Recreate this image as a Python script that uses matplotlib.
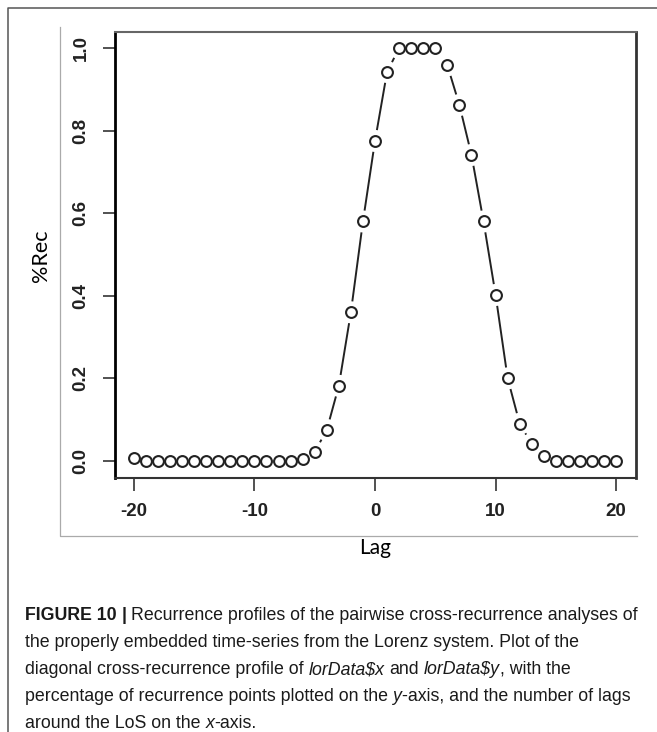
import numpy as np
import matplotlib.pyplot as plt
from matplotlib.lines import Line2D

# %Rec by lag
lags = np.arange(-20, 21)
rec = [0.007, 0, 0, 0, 0, 0, 0, 0, 0, 0, 0, 0, 0, 0,
       0.004, 0.022, 0.075, 0.182, 0.36, 0.58, 0.775, 0.942,
       1.0, 1.0, 1.0, 1.0, 0.958, 0.862, 0.741, 0.58, 0.402,
       0.20, 0.09, 0.041, 0.012, 0, 0, 0, 0, 0, 0]
xticks = [-20, -10, 0, 10, 20]
yticks = [0.0, 0.2, 0.4, 0.6, 0.8, 1.0]

W, H = 657, 732
def fx(x):
	return x / W
def fy(y):
	return 1 - y / H

fig = plt.figure(figsize=(W / 100, H / 100), dpi=100)
ax = fig.add_axes([fx(114.5), fy(477.5), (635.5 - 114.5) / W, (477.5 - 31.5) / H])
ax.set_xlim(-21.6, 21.6)
ax.set_ylim(-0.04, 1.04)

ax.plot(lags, rec, 'o', ms=7.8, mfc='white', mec='#222222', mew=1.5, zorder=3)

# R type="b": line pieces between points, with a gap round each point
gap = 11
pts = ax.transData.transform(np.column_stack([lags, rec]))
inv = ax.transData.inverted()
for p0, p1 in zip(pts[:-1], pts[1:]):
	d = np.hypot(*(p1 - p0))
	if d <= 2 * gap:
		continue
	u = (p1 - p0) / d
	a, b = inv.transform([p0 + gap * u, p1 - gap * u])
	ax.plot([a[0], b[0]], [a[1], b[1]], color='#222222', lw=1.4, solid_capstyle='butt')

ax.set_xticks(xticks)
ax.set_yticks(yticks)
ax.set_xticklabels(['%d' % t for t in xticks])
ax.set_yticklabels(['%.1f' % t for t in yticks], rotation=90, va='center')
ax.tick_params(direction='out', length=9, width=1.2, color='#333333',
               labelsize=13.5, pad=9)
for lab in ax.get_xticklabels() + ax.get_yticklabels():
	lab.set_fontweight('bold')
	lab.set_color('#222222')
	lab.set_family('Liberation Sans')
ax.spines['left'].set_linewidth(2)
ax.spines['left'].set_color('black')
ax.spines['top'].set_color('#666666')
ax.spines['top'].set_linewidth(1.5)
ax.spines['right'].set_color('#333333')
ax.spines['right'].set_linewidth(2)
ax.spines['bottom'].set_color('#333333')
ax.spines['bottom'].set_linewidth(1.5)

# axis labels, placed like the R plot
fig.text(fx(41), fy(256), '%Rec', rotation=90, ha='center', va='center',
         fontsize=15.5, family='Lato')
fig.text(fx(375), fy(554), 'Lag', ha='center', va='baseline',
         fontsize=15, family='Lato')

# frames: outer page box and the grey border of the embedded image
fig.add_artist(Line2D([fx(8), fx(8), 1], [0, fy(8), fy(8)], transform=fig.transFigure,
                      color='#555555', lw=1.1))
fig.add_artist(Line2D([fx(60), fx(60), fx(637)], [fy(27), fy(536), fy(536)],
                      transform=fig.transFigure, color='#aaaaaa', lw=0.9))

# caption, drawn as runs of plain / bold / italic text
caption = [
	[('FIGURE 10', 'bold'), ('|', 'bold'), ('Recurrence profiles of the pairwise cross-recurrence analyses of', 'normal')],
	[('the properly embedded time-series from the Lorenz system. Plot of the', 'normal')],
	[('diagonal cross-recurrence profile of', 'normal'), (r'lorData\$x', 'italic'), ('and', 'normal'),
	 (r'lorData\$y', 'italic'), (', with the', 'normal')],
	[('percentage of recurrence points plotted on the', 'normal'), ('y', 'italic'),
	 ('-axis, and the number of lags', 'normal')],
	[('around the LoS on the', 'normal'), ('x', 'italic'), ('-axis.', 'normal')],
]
cap_size = 12.8
renderer = fig.canvas.get_renderer()

def width(s, style):
	t = fig.text(0, 0, s, fontsize=cap_size, family='Liberation Sans',
	             fontweight='bold' if style == 'bold' else 'normal',
	             fontstyle='italic' if style == 'italic' else 'normal')
	w = t.get_window_extent(renderer).width
	t.remove()
	return w

space = width('a a', 'normal') - width('aa', 'normal')
for i, line in enumerate(caption):
	x = 25
	y = 620 + 27 * i
	for j, (s, style) in enumerate(line):
		if j > 0 and not s.startswith(','):
			if not s.startswith('-'):
				x += space
		fig.text(fx(x), fy(y), s, fontsize=cap_size, family='Liberation Sans',
		         fontweight='bold' if style == 'bold' else 'normal',
		         fontstyle='italic' if style == 'italic' else 'normal',
		         color='#1a1a1a', va='baseline')
		x += width(s, style)

fig.savefig('out.png', dpi=100)
